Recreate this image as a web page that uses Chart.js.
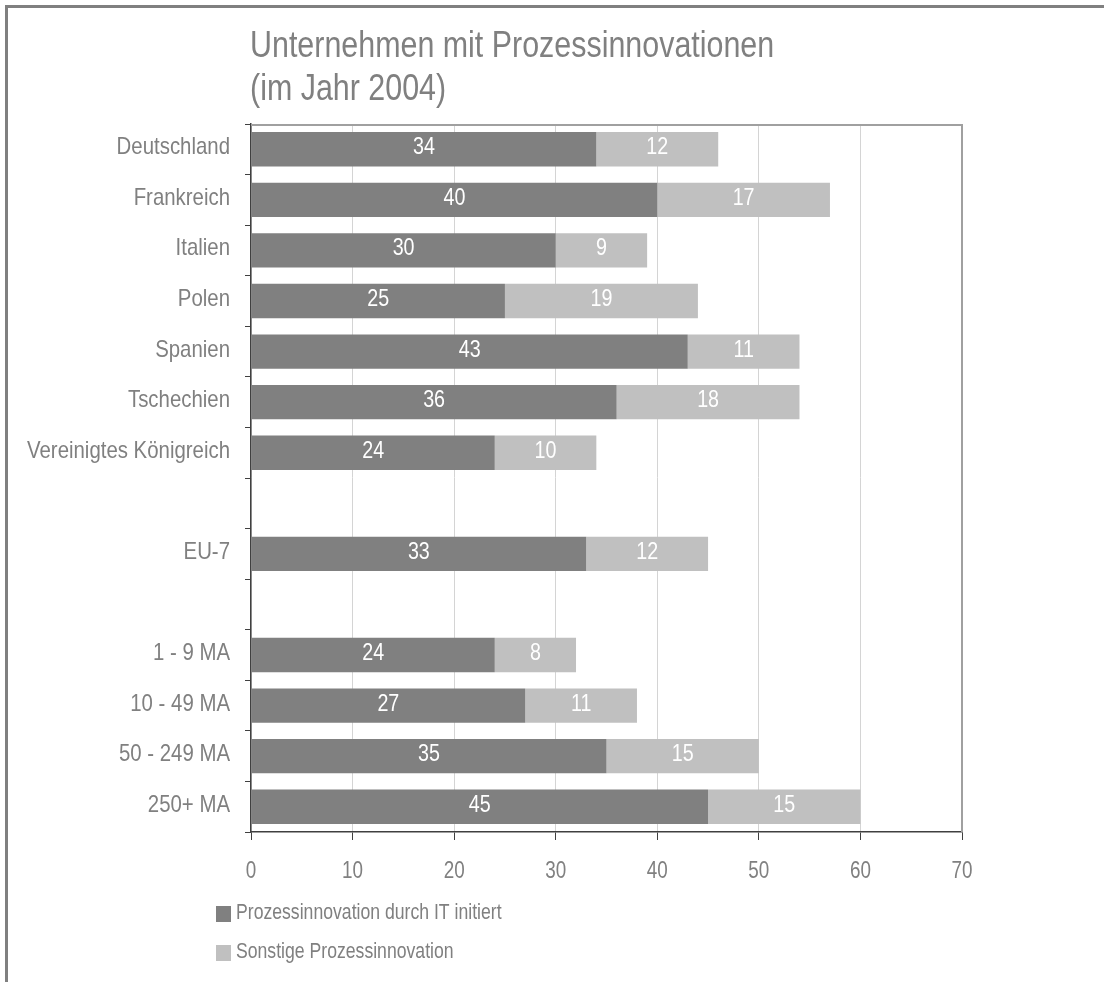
<!DOCTYPE html>
<html>
<head>
<meta charset="utf-8">
<script src="https://cdn.jsdelivr.net/npm/chart.js@4.4.1/dist/chart.umd.min.js"></script>
<style>
  html, body { margin: 0; padding: 0; background: #ffffff; }
  canvas { display: block; }
</style>
</head>
<body>
<canvas id="chart" width="1104" height="982"></canvas>
<script>
// Kategorien (leere Einträge erzeugen die Abstände zwischen den Gruppen)
const categories = ['Deutschland', 'Frankreich', 'Italien', 'Polen', 'Spanien', 'Tschechien',
  'Vereinigtes Königreich', '', 'EU-7', '', '1 - 9 MA', '10 - 49 MA', '50 - 249 MA', '250+ MA'];
// Anteile in Prozent
const itInitiated = [34, 40, 30, 25, 43, 36, 24, null, 33, null, 24, 27, 35, 45];
const otherInnovation = [12, 17, 9, 19, 11, 18, 10, null, 12, null, 8, 11, 15, 15];
const seriesNames = ['Prozessinnovation durch IT initiert', 'Sonstige Prozessinnovation'];
const titleLines = ['Unternehmen mit Prozessinnovationen', '(im Jahr 2004)'];
const xMin = 0, xMax = 70, xStep = 10;

const FONT = "'Liberation Sans', Arial, sans-serif";
const NARROW = 0.82;           // schmale Laufweite (Arial-Narrow-Optik)
const TEXT_GREY = '#808080';
const DARK = '#808080';
const LIGHT = '#c0c0c0';
const AXIS = '#404040';

// Text horizontal gestaucht zeichnen
function narrowText(ctx, text, x, y, size, align, color, squeeze) {
  ctx.save();
  ctx.font = size + 'px ' + FONT;
  ctx.fillStyle = color;
  ctx.textAlign = align;
  ctx.textBaseline = 'alphabetic';
  ctx.translate(x, y);
  ctx.scale(squeeze || NARROW, 1);
  ctx.fillText(text, 0, 0);
  ctx.restore();
}

// Äußerer Rahmen (links und oben)
const framePlugin = {
  id: 'frame',
  beforeDraw(chart) {
    const ctx = chart.ctx;
    ctx.save();
    ctx.fillStyle = '#ffffff';
    ctx.fillRect(0, 0, chart.width, chart.height);
    ctx.strokeStyle = '#808080';
    ctx.lineWidth = 3;
    ctx.beginPath();
    ctx.moveTo(6.5, chart.height);
    ctx.lineTo(6.5, 6.5);
    ctx.lineTo(chart.width, 6.5);
    ctx.stroke();
    ctx.restore();
  }
};

// Titel, linksbündig an der Zeichenfläche
const titlePlugin = {
  id: 'leftTitle',
  afterDraw(chart) {
    const a = chart.chartArea;
    titleLines.forEach((line, i) =>
      narrowText(chart.ctx, line, a.left - 1, a.top - 67 + i * 43, 36, 'left', TEXT_GREY, 0.845));
  }
};

// Achsenbeschriftungen
const axisLabelPlugin = {
  id: 'axisLabels',
  afterDraw(chart) {
    const ctx = chart.ctx;
    const xs = chart.scales.x, ys = chart.scales.y;
    ys.ticks.forEach((t, i) => {
      const label = chart.data.labels[i];
      if (!label) return;
      narrowText(ctx, label, ys.right - 21, ys.getPixelForTick(i) + 5, 24, 'right', TEXT_GREY, 0.85);
    });
    xs.ticks.forEach((t, i) => {
      narrowText(ctx, String(t.value), xs.getPixelForTick(i), xs.top + 46, 23, 'center', TEXT_GREY);
    });
  }
};

// Rahmen oben und rechts um die Zeichenfläche
const plotBorderPlugin = {
  id: 'plotBorder',
  afterDraw(chart) {
    const ctx = chart.ctx;
    const a = chart.chartArea;
    ctx.save();
    ctx.strokeStyle = '#a0a0a0';
    ctx.lineWidth = 2;
    ctx.beginPath();
    ctx.moveTo(a.left, a.top + 1);
    ctx.lineTo(a.right, a.top + 1);
    ctx.lineTo(a.right, a.bottom);
    ctx.stroke();
    ctx.restore();
  }
};

// Werte in den Balkensegmenten
const valueLabelPlugin = {
  id: 'valueLabels',
  afterDatasetsDraw(chart) {
    const ctx = chart.ctx;
    chart.data.datasets.forEach((ds, di) => {
      const meta = chart.getDatasetMeta(di);
      meta.data.forEach((bar, i) => {
        const v = ds.data[i];
        if (v === null || v === undefined) return;
        const cx = (bar.x + bar.base) / 2;
        narrowText(ctx, String(v), cx, bar.y + 5, 24, 'center', '#ffffff');
      });
    });
  }
};

// Legende untereinander unter der x-Achse
const stackedLegendPlugin = {
  id: 'stackedLegend',
  afterDraw(chart) {
    const ctx = chart.ctx;
    const a = chart.chartArea;
    chart.data.datasets.forEach((ds, i) => {
      const top = a.bottom + 74 + i * 39;
      ctx.save();
      ctx.fillStyle = ds.backgroundColor;
      ctx.fillRect(a.left - 35, top, 15, 16);
      ctx.restore();
      narrowText(ctx, ds.label, a.left - 15, top + 13, 21.5, 'left', TEXT_GREY);
    });
  }
};

new Chart(document.getElementById('chart'), {
  type: 'bar',
  data: {
    labels: categories,
    datasets: [
      { label: seriesNames[0], data: itInitiated, backgroundColor: DARK },
      { label: seriesNames[1], data: otherInnovation, backgroundColor: LIGHT }
    ]
  },
  options: {
    indexAxis: 'y',
    responsive: false,
    animation: false,
    devicePixelRatio: 1,
    layout: { padding: { top: 124, right: 142, left: 0, bottom: 0 } },
    datasets: { bar: { barPercentage: 0.68, categoryPercentage: 1.0, borderWidth: 0 } },
    plugins: {
      legend: { display: false },
      title: { display: false },
      tooltip: { enabled: false }
    },
    scales: {
      x: {
        stacked: true,
        min: xMin,
        max: xMax,
        ticks: { stepSize: xStep, display: false },
        grid: { color: '#d4d4d4', lineWidth: 1, tickColor: AXIS, tickLength: 8 },
        border: { color: AXIS, width: 1.5 },
        afterFit(scale) { scale.height = 150; }
      },
      y: {
        stacked: true,
        offset: true,
        ticks: { display: false, autoSkip: false },
        grid: { drawOnChartArea: false, offset: true, tickColor: AXIS, tickLength: 6 },
        border: { color: AXIS, width: 1.5 },
        afterFit(scale) { scale.width = 251; }
      }
    }
  },
  plugins: [framePlugin, titlePlugin, axisLabelPlugin, plotBorderPlugin, valueLabelPlugin, stackedLegendPlugin]
});
</script>
</body>
</html>
